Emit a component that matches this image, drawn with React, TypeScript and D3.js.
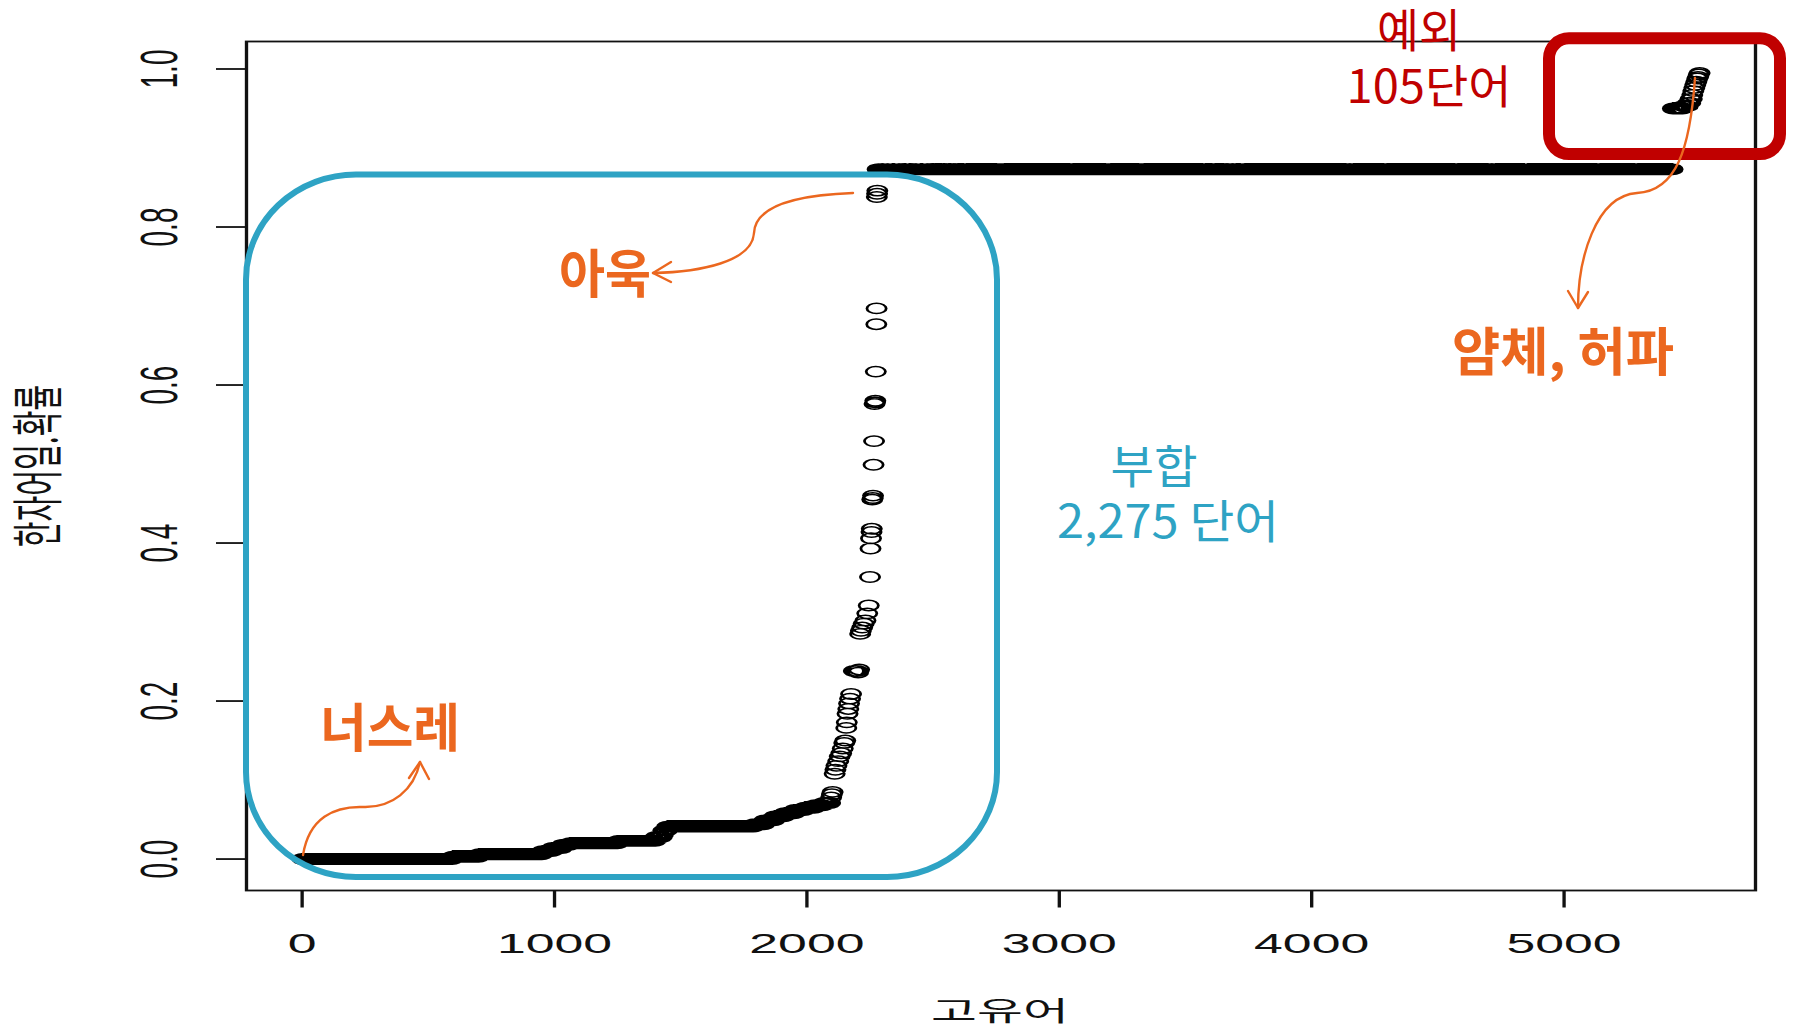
import React from 'react';
import * as d3 from 'd3';

const W = 1799;
const H = 1029;
// the R device was stretched sideways when pasted into the slide
const SX = 1.85;

// dense stretches of rank-ordered words sharing (about) the same probability
const runStart = [1, 596, 701, 951, 991, 1031, 1061, 1251, 1401, 1431, 1446, 1791, 1831, 1871, 1911, 1951, 1991, 2031, 2066, 2186, 2280, 5431, 5471, 5491, 5501];
const runEnd = [595, 700, 950, 990, 1030, 1060, 1250, 1400, 1425, 1445, 1790, 1830, 1870, 1910, 1950, 1990, 2030, 2065, 2092, 2200, 5430, 5470, 5490, 5500, 5506];
const runValue = [0, 0.003, 0.006, 0.01, 0.014, 0.018, 0.02, 0.023, 0.028, 0.036, 0.041, 0.044, 0.049, 0.054, 0.058, 0.062, 0.065, 0.068, 0.071, 0.238, 0.873, 0.95, 0.953, 0.957, 0.962];

// isolated words
const sparseRank = [1430, 2096, 2099, 2102, 2110, 2113, 2117, 2124, 2130, 2136, 2142, 2148, 2152, 2156, 2158, 2161, 2164, 2167, 2171, 2175, 2203, 2207, 2211, 2214, 2219, 2225, 2232, 2239, 2245, 2250, 2252, 2254, 2256, 2257, 2259, 2261, 2262, 2264, 2266, 2268, 2270, 2271, 2273, 2275, 2276, 2277, 2278, 2279, 5508, 5512, 5516, 5520, 5524, 5528, 5531, 5534, 5537];
const sparseValue = [0.031, 0.078, 0.082, 0.085, 0.108, 0.113, 0.118, 0.124, 0.13, 0.134, 0.14, 0.147, 0.15, 0.166, 0.173, 0.184, 0.19, 0.197, 0.203, 0.209, 0.236, 0.24, 0.285, 0.289, 0.293, 0.298, 0.302, 0.311, 0.321, 0.357, 0.393, 0.406, 0.414, 0.418, 0.455, 0.457, 0.46, 0.499, 0.529, 0.576, 0.578, 0.58, 0.617, 0.677, 0.697, 0.838, 0.842, 0.846, 0.967, 0.972, 0.976, 0.98, 0.984, 0.988, 0.99, 0.993, 0.995];

const xTicks = [0, 1000, 2000, 3000, 4000, 5000];
const yTicks = [0, 0.2, 0.4, 0.6, 0.8, 1.0];
const xTitle = '고유어';
const yTitle = '한자어일.확률';

const points: [number, number][] = [];
runStart.forEach((s, i) => {
  for (let r = s; r <= runEnd[i]; r++) points.push([r, runValue[i]]);
});
sparseRank.forEach((r, i) => points.push([r, sparseValue[i]]));

// R's default 4% axis padding
const xe = d3.extent(points, d => d[0]) as [number, number];
const ye = d3.extent(points, d => d[1]) as [number, number];
const xp = (xe[1] - xe[0]) * 0.04;
const yp = (ye[1] - ye[0]) * 0.04;

const box = { left: 246.5, right: 1755.5, top: 41.5, bottom: 890.5 };
const x = d3.scaleLinear().domain([xe[0] - xp, xe[1] + xp]).range([box.left, box.right]);
const y = d3.scaleLinear().domain([ye[0] - yp, ye[1] + yp]).range([box.bottom, box.top]);
const gx = (v: number) => x(v) / SX;

const R = 5.2;
const circlePath = points
  .map(([r, v]) => {
    const cx = gx(r), cy = y(v);
    return `M${(cx + R).toFixed(2)},${cy.toFixed(2)}a${R},${R} 0 1,0 ${-2 * R},0a${R},${R} 0 1,0 ${2 * R},0`;
  })
  .join('');

const BLUE = '#2EA3C4';
const RED = '#C00000';
const ORANGE = '#EB671F';
const KFONT = '"Noto Sans CJK KR", "Noto Sans", sans-serif';
const RFONT = '"Liberation Sans", Arial, sans-serif';

const arrowHead = (tx: number, ty: number, a: [number, number], b: [number, number]) =>
  `M${a[0]},${a[1]}L${tx},${ty}L${b[0]},${b[1]}`;

export default function App() {
  const axisLeft = box.left / SX;
  const axisRight = box.right / SX;
  return (
    <svg width={W} height={H} style={{ position: 'absolute', left: 0, top: 0, background: '#fff' }}>
      <rect width={W} height={H} fill="#fff" />
      <g transform={`scale(${SX},1)`}>
        <path d={circlePath} fill="none" stroke="#000" strokeWidth={1.5} />
        <rect x={axisLeft} y={box.top} width={axisRight - axisLeft} height={box.bottom - box.top}
          fill="none" stroke="#111" strokeWidth={1.8} />
        {yTicks.map(t => (
          <g key={`y${t}`}>
            <line x1={axisLeft - 16.5} x2={axisLeft} y1={y(t)} y2={y(t)} stroke="#111" strokeWidth={1.8} />
            <text transform={`translate(${177 / SX},${y(t)}) rotate(-90)`} textAnchor="middle"
              fontFamily={RFONT} fontSize={28} fill="#111">{t.toFixed(1)}</text>
          </g>
        ))}
        {xTicks.map(t => (
          <g key={`x${t}`}>
            <line x1={gx(t)} x2={gx(t)} y1={box.bottom} y2={box.bottom + 17} stroke="#111" strokeWidth={1.8} />
            <text x={gx(t)} y={953} textAnchor="middle" fontFamily={RFONT} fontSize={28} fill="#111">{t}</text>
          </g>
        ))}
        <text x={1000 / SX} y={1021} textAnchor="middle" fontFamily={KFONT} fontSize={27} fill="#111">{xTitle}</text>
        <text transform={`translate(${57 / SX},466) rotate(-90)`} textAnchor="middle"
          fontFamily={KFONT} fontSize={28} fill="#111">{yTitle}</text>
      </g>

      {/* slide annotations */}
      <rect x={246} y={174.5} width={751} height={702.5} rx={110} ry={105} fill="none" stroke={BLUE} strokeWidth={6} />
      <rect x={1549} y={38.3} width={231} height={115.7} rx={20} ry={20} fill="none" stroke={RED} strokeWidth={12} />

      <g fill="none" stroke={ORANGE} strokeWidth={2.4} strokeLinecap="round" strokeLinejoin="round">
        <path d="M303,855 C309,818 334,806 363,807 C392,808 414,790 420,762" />
        <path d={arrowHead(420, 762, [409, 778], [429, 779])} />
        <path d="M853,193 C800,195 755,205 754,233 C752,262 700,272 653,273" />
        <path d={arrowHead(653, 273, [671, 262], [671, 282])} />
        <path d="M1695,78 C1690,150 1676,191 1637,193 C1595,196 1578,260 1578,308" />
        <path d={arrowHead(1578, 308, [1568, 291], [1588, 292])} />
      </g>

      <g fontFamily={KFONT} textAnchor="middle">
        <text x={1419} y={47} fontSize={46} fill={RED} textLength={84} lengthAdjust="spacingAndGlyphs">예외</text>
        <text x={1429} y={103} fontSize={46} fill={RED} textLength={165} lengthAdjust="spacingAndGlyphs">105단어</text>
        <text x={1154} y={483} fontSize={46} fill={BLUE} textLength={87} lengthAdjust="spacingAndGlyphs">부합</text>
        <text x={1168} y={538} fontSize={46} fill={BLUE} textLength={222} lengthAdjust="spacingAndGlyphs">2,275 단어</text>
        <text x={605} y={293} fontSize={52} fontWeight="bold" fill={ORANGE} textLength={92} lengthAdjust="spacingAndGlyphs">아욱</text>
        <text x={390} y={747} fontSize={52} fontWeight="bold" fill={ORANGE} textLength={140} lengthAdjust="spacingAndGlyphs">너스레</text>
        <text x={1563} y={371} fontSize={52} fontWeight="bold" fill={ORANGE} textLength={222} lengthAdjust="spacingAndGlyphs">얌체, 허파</text>
      </g>
    </svg>
  );
}
